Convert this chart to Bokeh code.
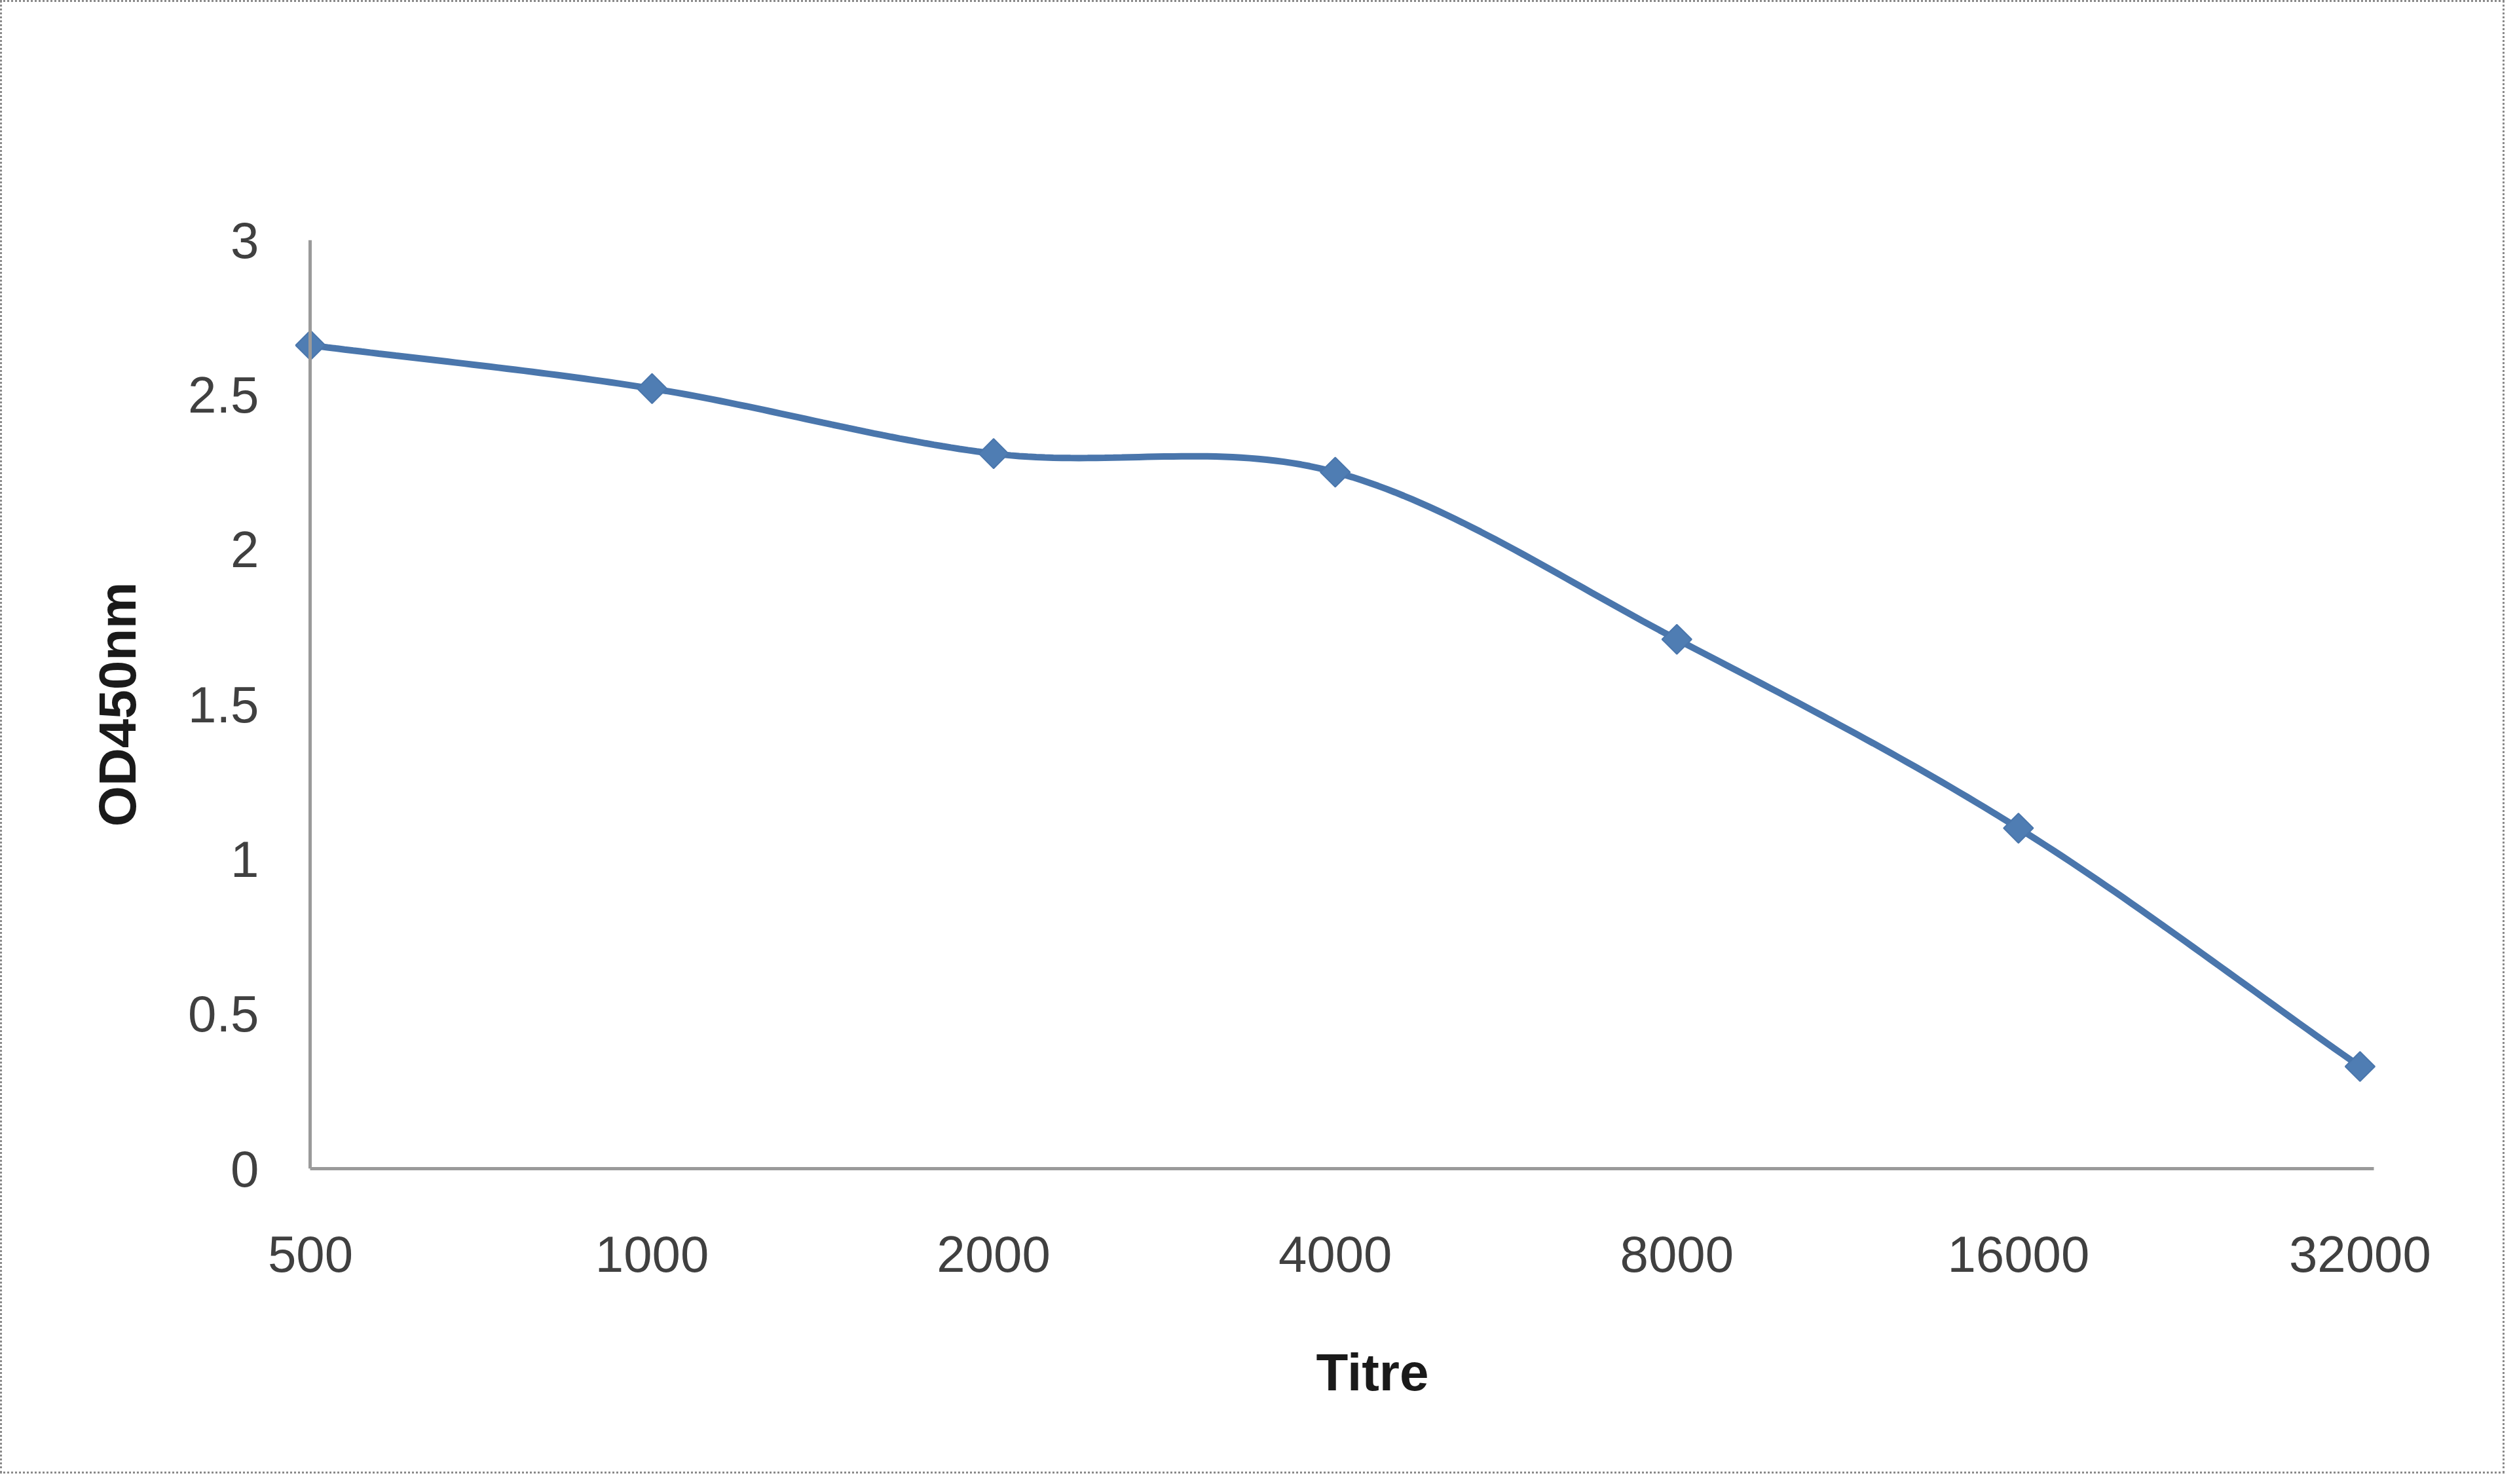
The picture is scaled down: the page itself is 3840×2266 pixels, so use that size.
import numpy as np
from bokeh.plotting import figure
from bokeh.models import Range1d, FixedTicker, Title, LinearAxis
from bokeh.embed import file_html
from bokeh.resources import INLINE

# ---- data ----
titre_labels = ["500", "1000", "2000", "4000", "8000", "16000", "32000"]
od450 = [2.66, 2.52, 2.31, 2.25, 1.71, 1.10, 0.33]
y_ticks = [0, 0.5, 1, 1.5, 2, 2.5, 3]
y_tick_labels = ["0", "0.5", "1", "1.5", "2", "2.5", "3"]
x_title = "Titre"
y_title = "OD450nm"

x_idx = list(range(len(titre_labels)))

# smoothed line (Bezier through the data points, like Excel's "smoothed line")
def smooth(xs, ys, n=40):
    xs = np.asarray(xs, float); ys = np.asarray(ys, float)
    px = np.concatenate([[2 * xs[0] - xs[1]], xs, [2 * xs[-1] - xs[-2]]])
    py = np.concatenate([[2 * ys[0] - ys[1]], ys, [2 * ys[-1] - ys[-2]]])
    ox, oy = [], []
    for i in range(1, len(px) - 2):
        t = np.linspace(0, 1, n, endpoint=(i == len(px) - 3))
        for arr, out in ((px, ox), (py, oy)):
            p0, p1, p2, p3 = arr[i - 1], arr[i], arr[i + 1], arr[i + 2]
            c1 = p1 + (p2 - p0) / 6.0
            c2 = p2 - (p3 - p1) / 6.0
            out.extend((1 - t) ** 3 * p1 + 3 * (1 - t) ** 2 * t * c1 + 3 * (1 - t) * t ** 2 * c2 + t ** 3 * p2)
    return ox, oy

sx, sy = smooth(x_idx, od450)

BORDER = 3
W, H = 3824, 2250

# x range padded a little on both sides so the end markers are not clipped;
# the axis lines themselves sit on [0, 6.04] as in the reference
p = figure(width=W, height=H, output_backend="svg", toolbar_location=None,
           x_range=Range1d(-0.045, 6.05), y_range=Range1d(0, 3),
           min_border_left=447, min_border_right=198, min_border_top=363, min_border_bottom=469)
p.styles = {"border": f"{BORDER}px dotted #8a8a8a"}

p.background_fill_color = "white"
p.border_fill_color = "white"
p.outline_line_color = None
p.xgrid.visible = False
p.ygrid.visible = False

FONT = "Liberation Sans"
AXIS_COLOR = "#9a9a9a"
for ax in (p.xaxis[0], p.yaxis[0]):
    ax.axis_line_color = AXIS_COLOR
    ax.axis_line_width = 5
    ax.major_tick_line_color = None
    ax.minor_tick_line_color = None
    ax.major_tick_out = 0
    ax.major_tick_in = 0
    ax.major_label_text_font = FONT
    ax.major_label_text_font_size = "78px"
    ax.major_label_text_color = "#404040"
    ax.axis_label_text_font = FONT
    ax.axis_label_text_font_size = "80px"
    ax.axis_label_text_font_style = "bold"
    ax.axis_label_text_color = "#1a1a1a"

p.xaxis.ticker = FixedTicker(ticks=x_idx)
p.xaxis.major_label_overrides = {i: lab for i, lab in zip(x_idx, titre_labels)}
p.xaxis.major_label_standoff = 103
p.xaxis.bounds = (0, 6.04)

# labelled y axis at the frame edge (line hidden) ...
p.yaxis.ticker = FixedTicker(ticks=y_ticks)
p.yaxis.major_label_overrides = {t: l for t, l in zip(y_ticks, y_tick_labels)}
p.yaxis.major_label_standoff = 55
p.yaxis.axis_label = y_title
p.yaxis.axis_label_standoff = 60
p.yaxis.axis_line_color = None

# ... and the visible y axis line at the first category
y_line = LinearAxis(fixed_location=0, ticker=FixedTicker(ticks=[]),
                    axis_line_color=AXIS_COLOR, axis_line_width=5,
                    major_tick_line_color=None, minor_tick_line_color=None,
                    major_label_text_alpha=0)
p.add_layout(y_line, "left")

# x-axis title, a bit right of the frame centre as in the reference
p.add_layout(Title(text=x_title, align="left", offset=1559, text_font=FONT,
                   text_font_size="80px", text_font_style="bold", text_color="#1a1a1a",
                   vertical_align="top", standoff=212), "below")

p.line(sx, sy, line_color="#4A76AC", line_width=10)
p.scatter(x_idx, od450, marker="square", angle=np.pi / 4, size=32,
          fill_color="#4F7DB3", line_color="#4A76AC", line_width=2)

open("out.html", "w").write(file_html(p, INLINE))
